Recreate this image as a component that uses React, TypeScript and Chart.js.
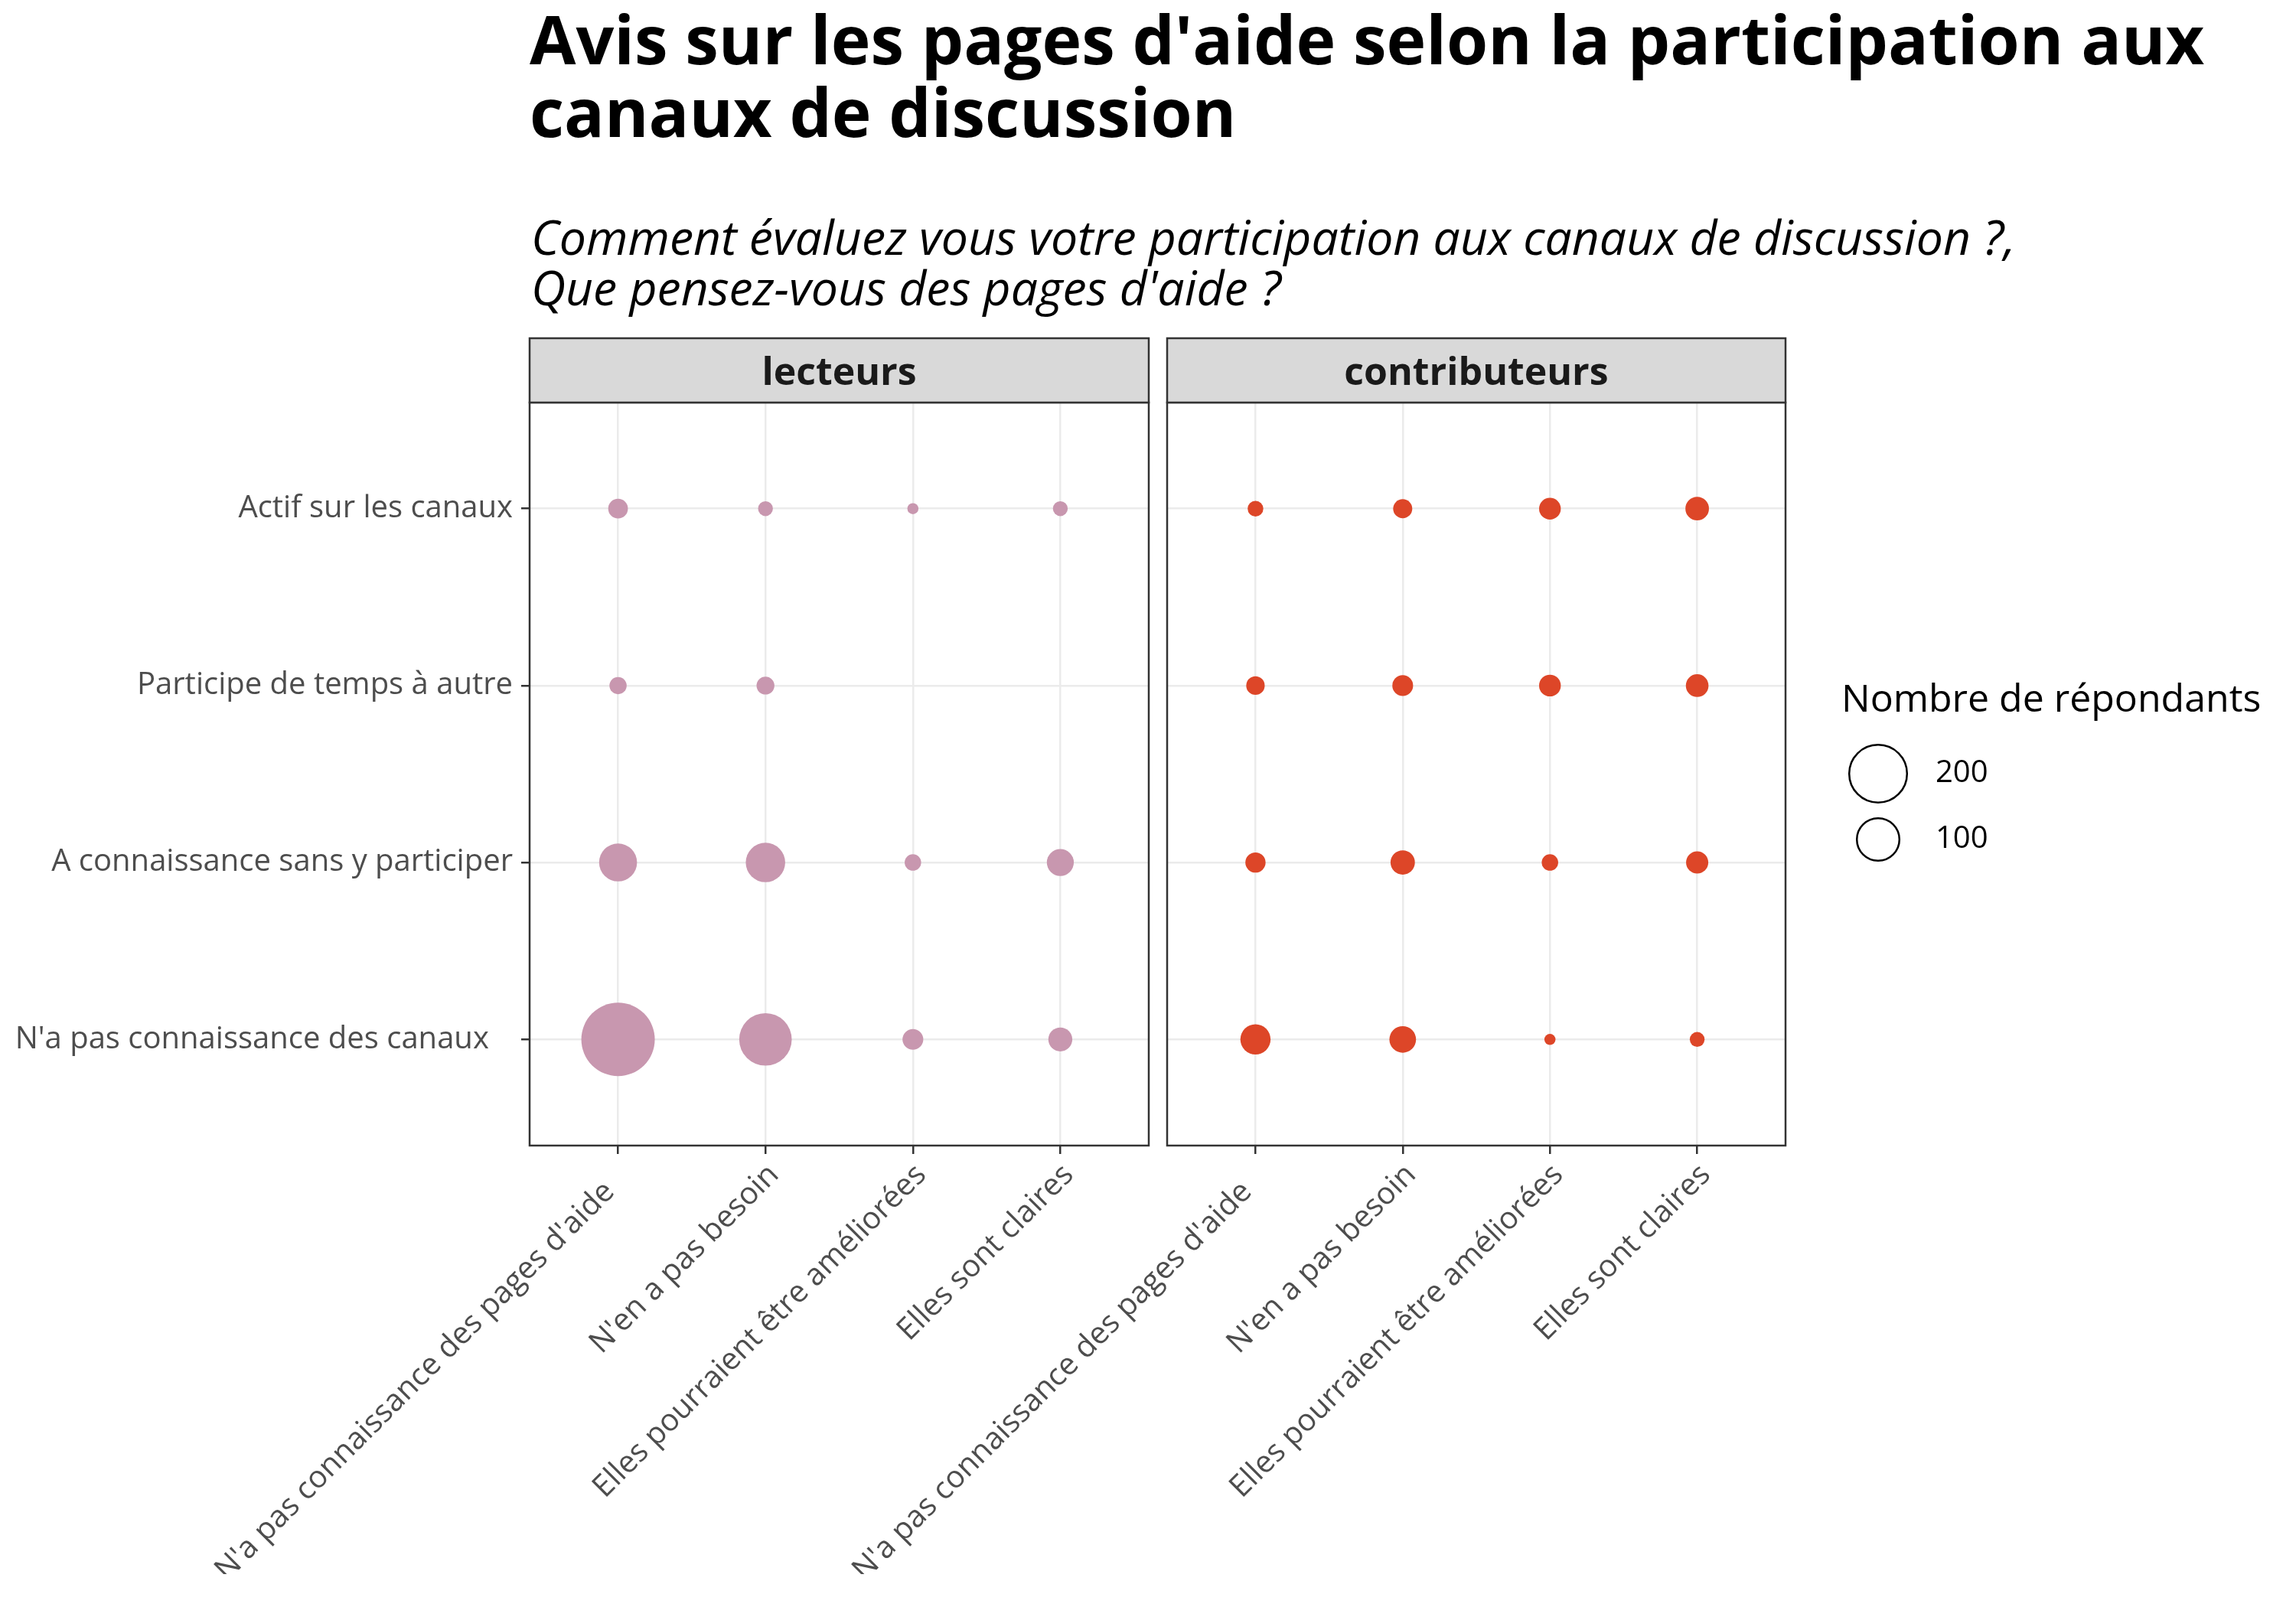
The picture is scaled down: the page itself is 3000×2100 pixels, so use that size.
import React, { useEffect, useRef } from "react";
import { Chart, registerables } from "chart.js";
Chart.register(...registerables);

const FONT = '"Open Sans", "Noto Sans", sans-serif';

// ---- Data ----
const panelLabels = ["lecteurs", "contributeurs"];
const opinionLabels = [
  "N'a pas connaissance des pages d'aide   ",
  "N'en a pas besoin",
  "Elles pourraient être améliorées",
  "Elles sont claires",
];
// bottom to top
const participationLabels = [
  "N'a pas connaissance des canaux   ",
  "A connaissance sans y participer",
  "Participe de temps à autre",
  "Actif sur les canaux",
];
// rows follow participationLabels, columns follow opinionLabels
const lecteursCounts: (number | null)[][] = [
  [319, 149, 13, 20],
  [68, 75, 6, 28],
  [7, 8, null, null],
  [11, 4, 1, 4],
];
const contributeursCounts: (number | null)[][] = [
  [38, 27, 1, 4],
  [12, 21, 6, 16],
  [9, 13, 15, 17],
  [5, 10, 15, 19],
];
const legendBreaks = [200, 100];
const legendTitle = "Nombre de répondants";
const titleLines = [
  "Avis sur les pages d'aide selon la participation aux",
  "canaux de discussion",
];
const subtitleLines = [
  "Comment évaluez vous votre participation aux canaux de discussion ?,",
  "Que pensez-vous des pages d'aide ?",
];
const panelColors = ["#C897AF", "#DD4628"];

// ---- Layout (page px) ----
const W = 3000;
const H = 2100;
const STRIP_TOP = 442;
const PANEL_TOP = 526;
const PANEL_BOTTOM = 1497;
const LEFT_PANEL = [692, 1501];
const RIGHT_PANEL = [1525, 2333];
const X_AXIS_H = 560;

function sizeFor(v: number) {
  return 4.85 + 2.415 * Math.sqrt(v);
}

function toPoints(counts: (number | null)[][]) {
  const pts: { x: number; y: number; r: number }[] = [];
  counts.forEach((row, i) =>
    row.forEach((v, j) => {
      if (v != null) pts.push({ x: j + 1, y: i + 1, r: sizeFor(v) });
    })
  );
  return pts;
}

const panelDecor = (label: string) => ({
  id: "panelDecor",
  afterDraw(chart: any) {
    const { ctx, chartArea } = chart;
    const { left, right, top, bottom } = chartArea;
    ctx.save();
    ctx.lineWidth = 2.5;
    ctx.strokeStyle = "#333333";
    ctx.strokeRect(left, top, right - left, bottom - top);
    ctx.fillStyle = "#D9D9D9";
    ctx.fillRect(left, STRIP_TOP, right - left, top - STRIP_TOP);
    ctx.strokeRect(left, STRIP_TOP, right - left, top - STRIP_TOP);
    ctx.fillStyle = "#1A1A1A";
    ctx.font = `bold 50px ${FONT}`;
    ctx.textAlign = "center";
    ctx.textBaseline = "alphabetic";
    ctx.fillText(label, (left + right) / 2, 503);
    ctx.restore();
  },
});

const pageDecor = {
  id: "pageDecor",
  afterDraw(chart: any) {
    const { ctx } = chart;
    ctx.save();
    ctx.fillStyle = "#000000";
    ctx.textAlign = "left";
    ctx.textBaseline = "alphabetic";
    ctx.font = `bold 87.6px ${FONT}`;
    ctx.fillText(titleLines[0], 692, 84);
    ctx.fillText(titleLines[1], 692, 179);
    ctx.font = `italic 62.5px ${FONT}`;
    ctx.fillText(subtitleLines[0], 694, 333);
    ctx.fillText(subtitleLines[1], 694, 399);
    // size legend
    ctx.font = `50px ${FONT}`;
    ctx.fillText(legendTitle, 2406, 930);
    const ys = [1011, 1097];
    legendBreaks.forEach((b, i) => {
      ctx.beginPath();
      ctx.lineWidth = 2.5;
      ctx.strokeStyle = "#000000";
      ctx.arc(2454, ys[i], sizeFor(b) - 1.2, 0, Math.PI * 2);
      ctx.stroke();
      ctx.font = `40px ${FONT}`;
      ctx.textBaseline = "middle";
      ctx.fillText(String(b), 2529, ys[i]);
    });
    ctx.restore();
  },
};

function makeConfig(
  counts: (number | null)[][],
  color: string,
  label: string,
  showY: boolean,
  panelLeft: number,
  panelRight: number,
  extra: any[]
) {
  const gridCommon = {
    color: "#EBEBEB",
    lineWidth: 2.5,
    tickColor: "#333333",
    tickWidth: 2.5,
    tickLength: 11,
    offset: false,
  };
  return {
    type: "bubble" as const,
    data: {
      datasets: [
        {
          data: toPoints(counts),
          backgroundColor: color,
          borderWidth: 0,
          hoverBorderWidth: 0,
        },
      ],
    },
    options: {
      animation: false,
      responsive: false,
      maintainAspectRatio: false,
      events: [],
      layout: {
        padding: {
          left: 0,
          right: W - panelRight,
          top: PANEL_TOP,
          bottom: H - PANEL_BOTTOM - X_AXIS_H,
        },
      },
      plugins: {
        legend: { display: false },
        tooltip: { enabled: false },
      },
      scales: {
        x: {
          type: "linear",
          min: 0.4,
          max: 4.6,
          afterBuildTicks: (s: any) => {
            s.ticks = opinionLabels.map((_, i) => ({ value: i + 1 }));
          },
          afterFit: (s: any) => {
            s.height = X_AXIS_H;
            s.paddingLeft = 0;
            s.paddingRight = 0;
          },
          ticks: {
            callback: (v: any) => opinionLabels[Math.round(v) - 1] ?? "",
            autoSkip: false,
            minRotation: 45,
            maxRotation: 45,
            color: "#4D4D4D",
            font: { family: FONT, size: 40 },
            padding: 4,
            labelOffset: 11,
          },
          grid: gridCommon,
          border: { display: false },
        },
        y: {
          type: "linear",
          min: 0.4,
          max: 4.6,
          afterBuildTicks: (s: any) => {
            s.ticks = participationLabels.map((_, i) => ({ value: i + 1 }));
          },
          afterFit: (s: any) => {
            s.width = panelLeft;
            s.paddingTop = 0;
            s.paddingBottom = 0;
          },
          ticks: {
            display: showY,
            callback: (v: any) => participationLabels[Math.round(v) - 1] ?? "",
            color: "#4D4D4D",
            font: { family: FONT, size: 40 },
            padding: 11,
          },
          grid: showY ? gridCommon : { ...gridCommon, drawTicks: false, tickLength: 0 },
          border: { display: false },
        },
      },
    },
    plugins: [panelDecor(label), ...extra],
  };
}

export default function App() {
  const leftRef = useRef<HTMLCanvasElement | null>(null);
  const rightRef = useRef<HTMLCanvasElement | null>(null);

  useEffect(() => {
    const charts: Chart[] = [];
    if (leftRef.current) {
      charts.push(
        new Chart(
          leftRef.current,
          makeConfig(
            lecteursCounts,
            panelColors[0],
            panelLabels[0],
            true,
            LEFT_PANEL[0],
            LEFT_PANEL[1],
            [pageDecor]
          ) as any
        )
      );
    }
    if (rightRef.current) {
      charts.push(
        new Chart(
          rightRef.current,
          makeConfig(
            contributeursCounts,
            panelColors[1],
            panelLabels[1],
            false,
            RIGHT_PANEL[0],
            RIGHT_PANEL[1],
            []
          ) as any
        )
      );
    }
    return () => charts.forEach((c) => c.destroy());
  }, []);

  const canvasStyle: React.CSSProperties = {
    position: "absolute",
    left: 0,
    top: 0,
    width: W,
    height: H,
  };

  return (
    <div
      style={{
        position: "absolute",
        left: 0,
        top: 0,
        width: W,
        height: H,
        background: "#FFFFFF",
      }}
    >
      <canvas ref={leftRef} width={W} height={H} style={canvasStyle} />
      <canvas ref={rightRef} width={W} height={H} style={canvasStyle} />
    </div>
  );
}
